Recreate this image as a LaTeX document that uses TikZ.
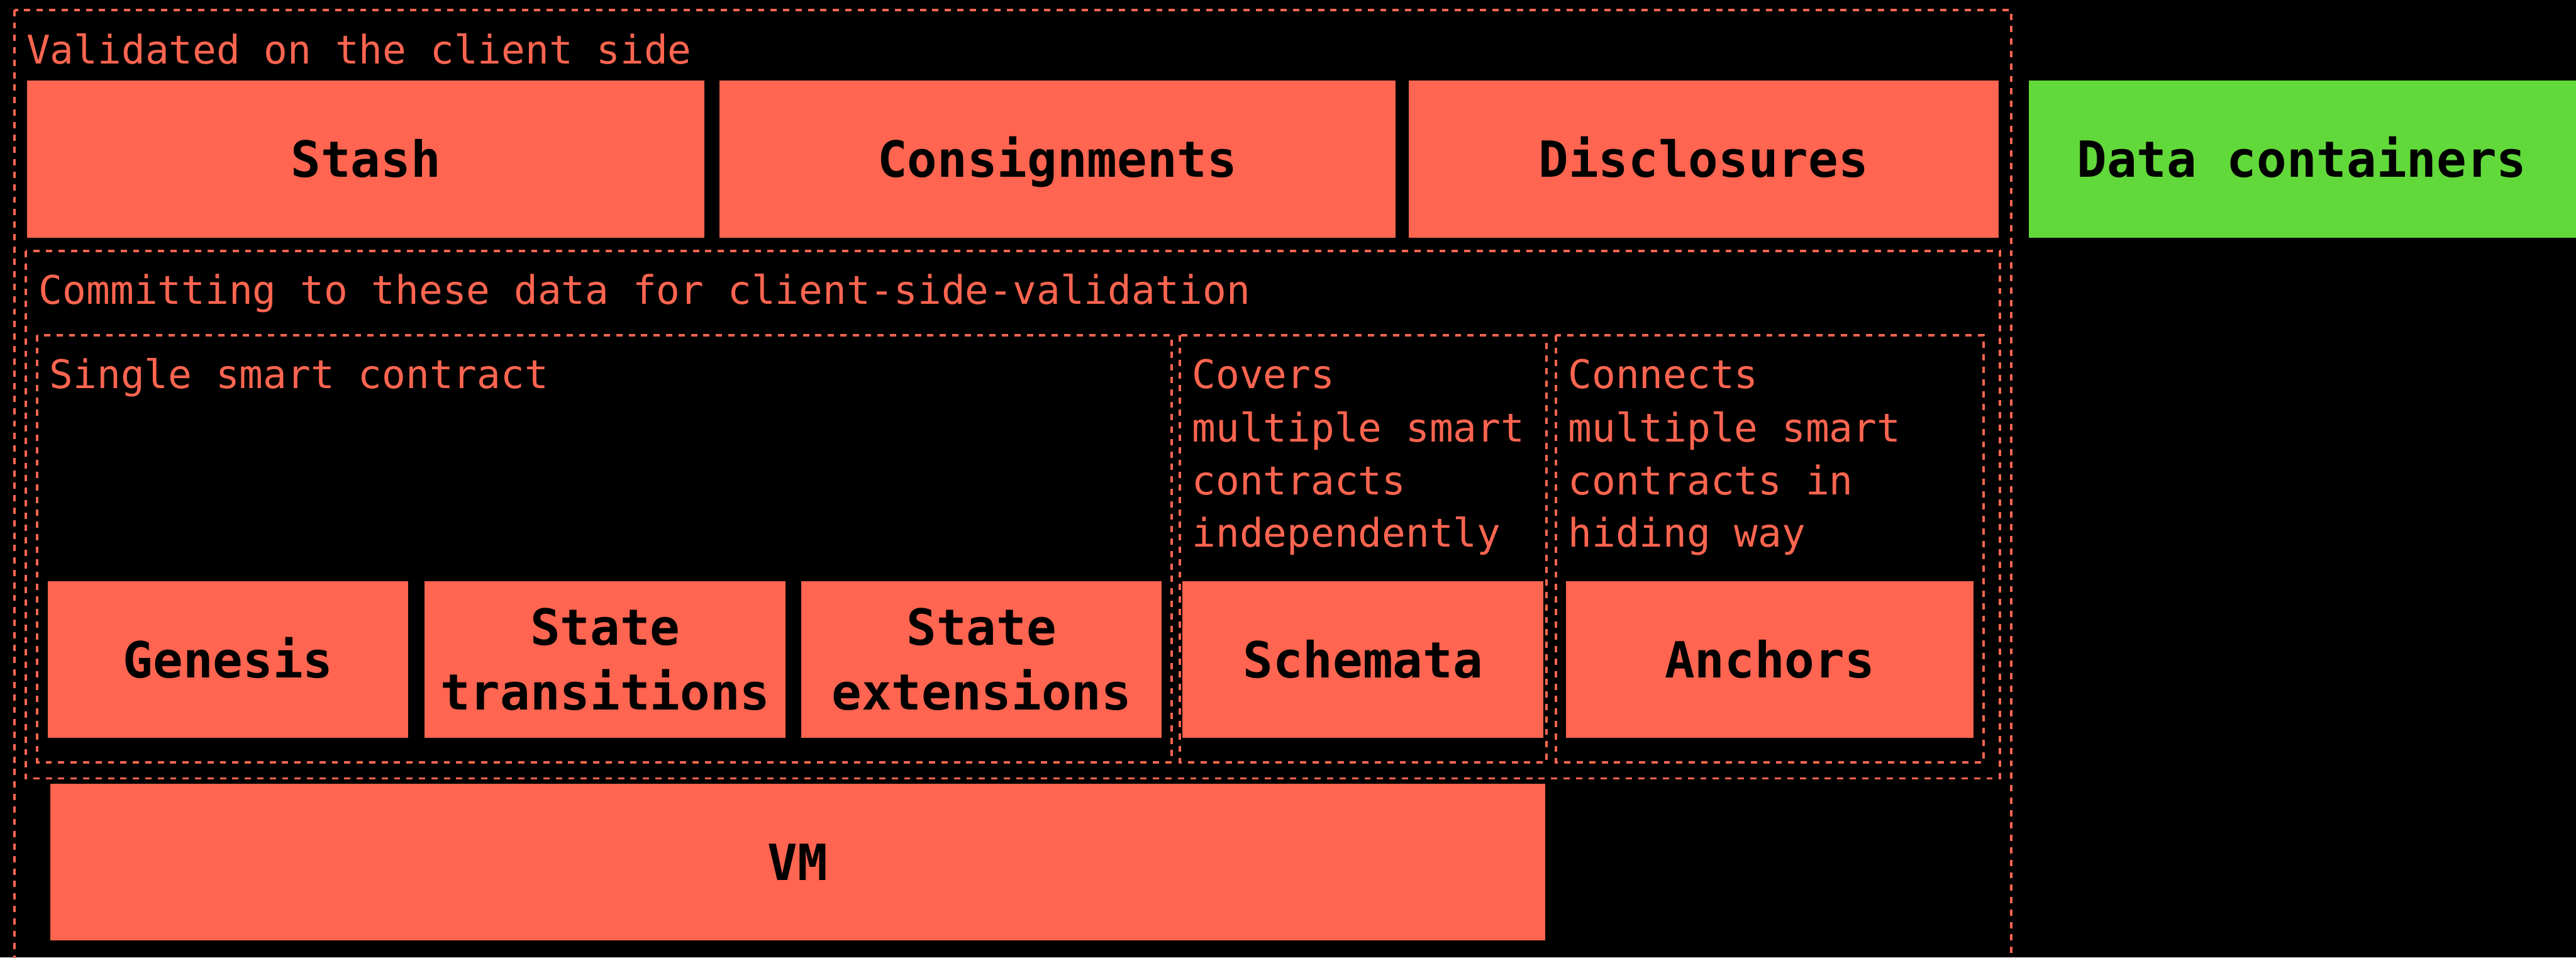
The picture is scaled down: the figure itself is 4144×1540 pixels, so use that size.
\documentclass[tikz,border=0pt]{standalone}
\usepackage{fontspec}
\newfontfamily\plexmono{DejaVu Sans Mono}
\definecolor{coral}{HTML}{FF6550}
\definecolor{leaf}{HTML}{62D93A}

% solid block given by its corners (x1,y1)-(x2,y2), in pixel units
\newcommand\blockat[6][coral]{%
  \node[block, fill=#1, minimum width={(#5-#3)*0.01cm}, minimum height={(#6-#4)*0.01cm}]
    (#2) at ({(#3+#5)/2},{(#4+#6)/2}) {};}

\begin{document}
\begin{tikzpicture}[x=0.01cm, y=-0.01cm,
  dbox/.style={draw=coral, line width=0.04cm, dash pattern=on 0.1cm off 0.1cm},
  block/.style={draw=none, inner sep=0pt, outer sep=0pt},
  lbl/.style={font=\plexmono\bfseries\fontsize{22.78}{29.6}\selectfont, text=black, inner sep=0pt, anchor=base},
  note/.style={font=\plexmono\fontsize{18.05}{24.19}\selectfont, text=coral, inner sep=0pt, anchor=base west}]

\useasboundingbox (0,0) rectangle (4144,1540);
\fill[black] (0,0) rectangle (4144,1540);
\clip (0,0) rectangle (4144,1540);

% dashed group frames
\draw[dbox] (23,16) rectangle (3235,1620);
\draw[dbox] (41,404) rectangle (3217,1252);
\draw[dbox] (60,539) rectangle (1885,1226);
\draw[dbox] (1898,539) rectangle (2488,1226);
\draw[dbox] (2503,539) rectangle (3191,1226);

% group captions
\node[note] (cap-valid) at (42,103) {Validated on the client side};
\node[note] (cap-commit) at (62,489) {Committing to these data for client-side-validation};
\node[note] (cap-single) at (79,625) {Single smart contract};
\node[note] (cap-cov1) at (1917,625) {Covers};
\node[note] (cap-cov2) at (1917,711) {multiple smart};
\node[note] (cap-cov3) at (1917,796) {contracts};
\node[note] (cap-cov4) at (1917,880) {independently};
\node[note] (cap-con1) at (2522,625) {Connects};
\node[note] (cap-con2) at (2522,711) {multiple smart};
\node[note] (cap-con3) at (2522,796) {contracts in};
\node[note] (cap-con4) at (2522,880) {hiding way};

% top row
\blockat{stash}{44}{130}{1133}{382}
\blockat{consign}{1157}{130}{2245}{382}
\blockat{disclose}{2266}{130}{3215}{382}
\blockat[leaf]{containers}{3264}{130}{4160}{382}
\node[lbl] (stash-l) at ([yshift=-0.29cm]stash.center) {Stash};
\node[lbl] (consign-l) at ([yshift=-0.29cm]consign.center) {Consignments};
\node[lbl] (disclose-l) at ([yshift=-0.29cm]disclose.center) {Disclosures};
\node[lbl] (containers-l) at ([yshift=-0.29cm]3703,256) {Data containers};

% contract-level row
\blockat{genesis}{77}{935}{657}{1187}
\blockat{trans}{683}{935}{1264}{1187}
\blockat{ext}{1289}{935}{1869}{1187}
\blockat{schemata}{1902}{935}{2483}{1187}
\blockat{anchors}{2519}{935}{3175}{1187}
\node[lbl] (genesis-l) at ([yshift=-0.29cm]genesis.center) {Genesis};
\node[lbl] (trans-l1) at ([yshift=0.235cm]trans.center) {State};
\node[lbl] (trans-l2) at ([yshift=-0.805cm]trans.center) {transitions};
\node[lbl] (ext-l1) at ([yshift=0.235cm]ext.center) {State};
\node[lbl] (ext-l2) at ([yshift=-0.805cm]ext.center) {extensions};
\node[lbl] (schemata-l) at ([yshift=-0.29cm]schemata.center) {Schemata};
\node[lbl] (anchors-l) at ([yshift=-0.29cm]anchors.center) {Anchors};

% virtual machine
\blockat{vm}{81}{1261}{2486}{1513}
\node[lbl] (vm-l) at ([yshift=-0.29cm]vm.center) {VM};
\end{tikzpicture}
\end{document}
